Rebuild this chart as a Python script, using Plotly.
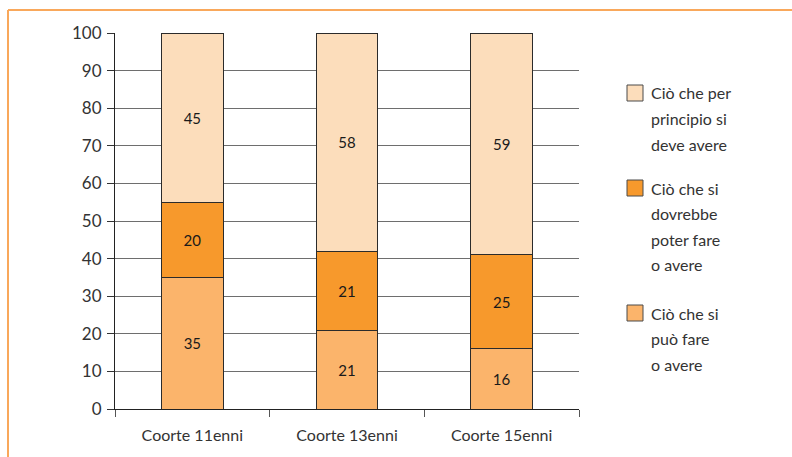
import plotly.graph_objects as go

# Cohorts and the share of each kind of answer (percent, stacked to 100)
categories = ["Coorte 11enni", "Coorte 13enni", "Coorte 15enni"]
puo_fare = [35, 21, 16]
dovrebbe_poter = [20, 21, 25]
per_principio = [45, 58, 59]

series_names = [
    ["Ciò che si", "può fare", "o avere"],
    ["Ciò che si", "dovrebbe", "poter fare", "o avere"],
    ["Ciò che per", "principio si", "deve avere"],
]
series_values = [puo_fare, dovrebbe_poter, per_principio]
series_colors = ["#FBB46B", "#F7992C", "#FCDDBB"]

text_font = "Lato, 'Open Sans', sans-serif"

fig = go.Figure()
for names, vals, col in zip(series_names, series_values, series_colors):
    fig.add_trace(go.Bar(
        x=categories,
        y=vals,
        name=" ".join(names),
        marker=dict(color=col, line=dict(color="#2b2b2b", width=1)),
        text=vals,
        texttemplate="%{text}",
        textposition="inside",
        insidetextanchor="middle",
        textangle=0,
        textfont=dict(family=text_font, size=15, color="#1a1a1a"),
        width=0.4,
        showlegend=False,
    ))

fig.update_layout(
    width=792,
    height=457,
    margin=dict(l=115, r=213, t=33, b=48),
    paper_bgcolor="white",
    plot_bgcolor="white",
    barmode="stack",
    font=dict(family=text_font, size=15, color="#333333"),
    uniformtext=dict(minsize=10, mode="show"),
)

fig.update_xaxes(
    type="category",
    range=[-0.5, 2.5],
    showline=True,
    linecolor="#222222",
    linewidth=1,
    ticks="outside",
    tickson="boundaries",
    ticklen=7,
    tickcolor="#555555",
    tickfont=dict(family=text_font, size=16, color="#333333"),
    ticklabelstandoff=12,
    showgrid=False,
)

fig.update_yaxes(
    range=[0, 100],
    dtick=10,
    showline=True,
    linecolor="#222222",
    linewidth=1,
    ticks="outside",
    ticklen=7,
    tickcolor="#333333",
    showgrid=True,
    gridcolor="#6e6e6e",
    gridwidth=1,
    zeroline=False,
    tickfont=dict(family=text_font, size=17, color="#333333"),
    ticklabelstandoff=2,
)

# Legend drawn as swatches plus one text line each, to keep the wide line spacing
plot_w = 792 - 115 - 213
plot_h = 457 - 33 - 48


def px_to_paper_x(px):
    return (px - 115) / plot_w


def px_to_paper_y(py):
    return (457 - 48 - py) / plot_h


legend_rows = [
    (series_names[2], series_colors[2], 93),
    (series_names[1], series_colors[1], 188),
    (series_names[0], series_colors[0], 313),
]
line_step = 25.5
for names, col, y0 in legend_rows:
    fig.add_shape(
        type="rect", xref="paper", yref="paper",
        x0=px_to_paper_x(627), x1=px_to_paper_x(643),
        y0=px_to_paper_y(y0 + 8), y1=px_to_paper_y(y0 - 8),
        fillcolor=col, line=dict(color="#4a4a4a", width=1),
    )
    for i, line in enumerate(names):
        fig.add_annotation(
            xref="paper", yref="paper",
            x=px_to_paper_x(649), y=px_to_paper_y(y0 + i * line_step),
            xanchor="left", yanchor="middle",
            text=line, showarrow=False,
            font=dict(family=text_font, size=16, color="#333333"),
        )

# Orange frame along the top and left edges
frame_color = "#F9A85B"
fig.add_shape(
    type="line", xref="paper", yref="paper",
    x0=px_to_paper_x(8), x1=px_to_paper_x(800),
    y0=px_to_paper_y(10), y1=px_to_paper_y(10),
    line=dict(color=frame_color, width=2),
)
fig.add_shape(
    type="line", xref="paper", yref="paper",
    x0=px_to_paper_x(8), x1=px_to_paper_x(8),
    y0=px_to_paper_y(10), y1=px_to_paper_y(470),
    line=dict(color=frame_color, width=2),
)

fig.write_html("out.html")
